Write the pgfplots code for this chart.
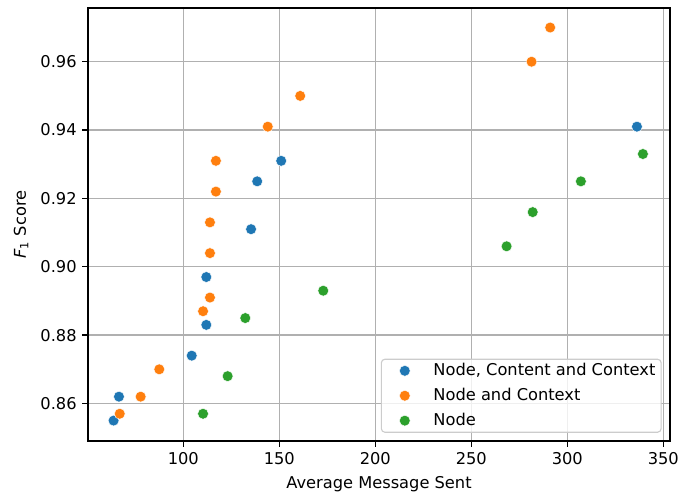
\documentclass[border=0pt]{standalone}
\usepackage{fontspec}
\setmainfont{DejaVu Sans}
\usepackage{pgfplots}
\pgfplotsset{compat=1.18}
\definecolor{tabblue}{HTML}{1F77B4}
\definecolor{taborange}{HTML}{FF7F0E}
\definecolor{tabgreen}{HTML}{2CA02C}
\definecolor{gridc}{HTML}{B0B0B0}
\definecolor{legc}{HTML}{CCCCCC}
\newcommand{\fs}{\fontsize{11.7pt}{14pt}\selectfont}
\begin{document}
\fs
\begin{tikzpicture}
\begin{axis}[
  scale only axis,
  width=419pt, height=311.8pt,
  xmin=50.4, xmax=353.5,
  ymin=0.849, ymax=0.9757,
  xtick={100,150,200,250,300,350},
  ytick={0.86,0.88,0.90,0.92,0.94,0.96},
  /pgf/number format/assume math mode=true,
  yticklabel style={/pgf/number format/.cd, fixed, fixed zerofill, precision=2},
  xticklabel style={/pgf/number format/.cd, fixed, precision=0},
  scaled y ticks=false,
  tick align=outside,
  tick pos=left,
  major tick length=4.1pt,
  every tick/.style={black, line width=0.94pt},
  axis line style={line width=0.94pt, black},
  grid=major,
  major grid style={gridc, line width=0.94pt},
  xlabel={Average Message Sent},
  ylabel={\textit{F}\textsubscript{1} Score},
  x label style={at={(axis description cs:0.5,-0.0994)}, anchor=center},
  y label style={at={(axis description cs:-0.115,0.5)}, anchor=center},
  tick label style={font=\fs},
  label style={font=\fs},
  legend style={at={(1,0)}, anchor=south east, xshift=-6pt, yshift=6pt,
    draw=legc, line width=0.8pt, rounded corners=2.5pt, fill=white, fill opacity=0.8, text opacity=1,
    font=\fs, row sep=3.3pt, inner xsep=2.1pt, inner ysep=1pt},
  legend cell align=left,
  legend image code/.code={%
    \path (0pt,0pt) (33.1pt,0pt);
    \draw[#1, fill opacity=1, draw opacity=1, only marks] plot coordinates {(14.6pt,0pt)};
  },
]
\addplot[only marks, mark=*, mark size=3.9pt, draw=white, line width=0.3pt, fill=tabblue] coordinates {
(151.0,0.931) (138.5,0.925) (135.3,0.911) (112.0,0.897) (112.0,0.883)
(104.4,0.874) (66.5,0.862) (63.7,0.855) (336.3,0.941)
};
\addlegendentry{Node, Content and Context}
\addplot[only marks, mark=*, mark size=3.9pt, draw=white, line width=0.3pt, fill=taborange] coordinates {
(291.1,0.970) (281.4,0.960) (160.9,0.950) (144.0,0.941) (117.0,0.931)
(117.0,0.922) (113.9,0.913) (113.9,0.904) (113.9,0.891) (110.3,0.887)
(87.5,0.870) (77.8,0.862) (66.9,0.857)
};
\addlegendentry{Node and Context}
\addplot[only marks, mark=*, mark size=3.9pt, draw=white, line width=0.3pt, fill=tabgreen] coordinates {
(339.4,0.933) (307.1,0.925) (282.0,0.916) (268.4,0.906) (172.9,0.893)
(132.3,0.885) (123.1,0.868) (110.3,0.857)
};
\addlegendentry{Node}
\end{axis}
\pgfresetboundingbox
\useasboundingbox (-63.4pt,-36.7pt) rectangle (425.5pt,317.6pt);
\end{tikzpicture}
\end{document}
